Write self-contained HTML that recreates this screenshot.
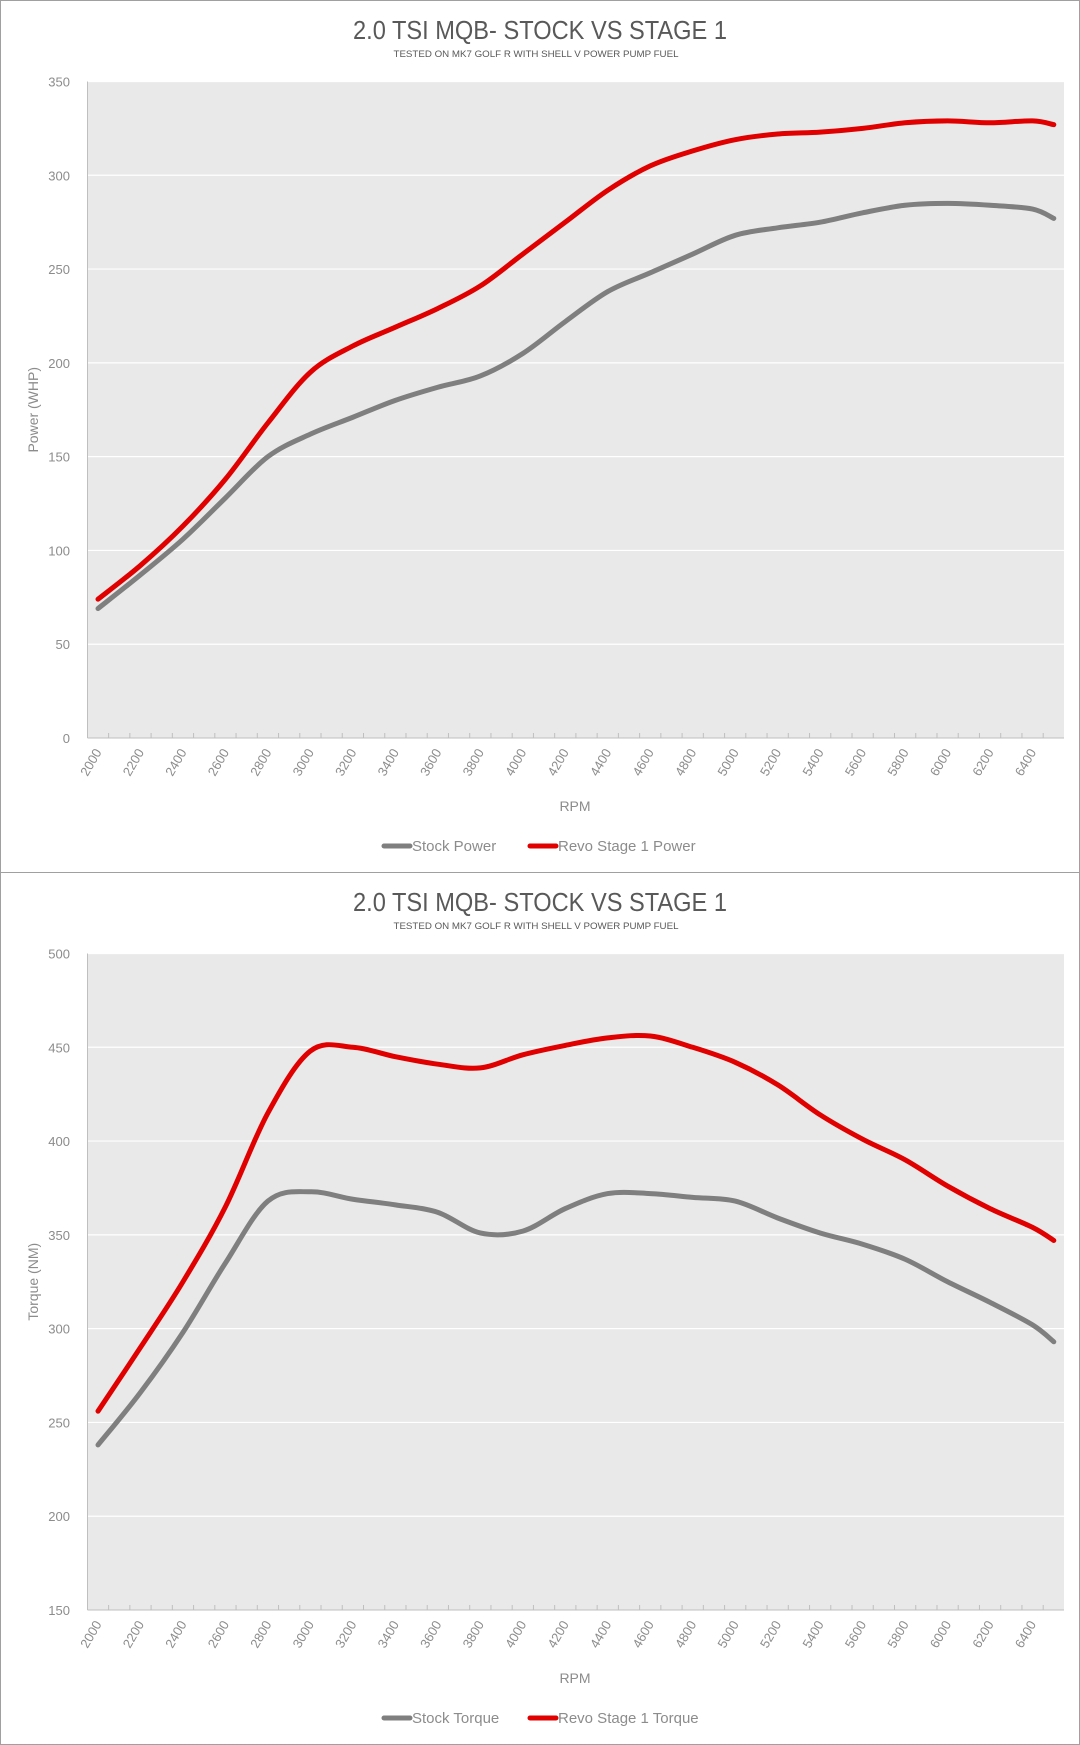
<!DOCTYPE html>
<html><head><meta charset="utf-8"><style>
html,body{margin:0;padding:0;background:#fff;}
svg{display:block;font-family:"Liberation Sans",sans-serif;}
</style></head><body>
<svg id="root" width="1080" height="1745" viewBox="0 0 1080 1745">
<rect x="0.5" y="0.5" width="1079" height="872" fill="#fff" stroke="#a0a0a0"/>
<rect x="0.5" y="872.5" width="1079" height="872" fill="#fff" stroke="#a0a0a0"/>
<g id="g1"></g>
<g id="g2"></g>
</svg>
<script>
const rpm = [2000,2200,2400,2600,2800,3000,3200,3400,3600,3800,4000,4200,4400,4600,4800,5000,5200,5400,5600,5800,6000,6200,6400,6500];
const stockPower = [69,87,106,128,150,162,171,180,187,193,205,222,238,248,258,268,272,275,280,284,285,284,282,277];
const revoPower = [74,92,113,138,168,195,209,219,229,241,258,275,292,305,313,319,322,323,325,328,329,328,329,327];
const stockTorque = [238,266,298,335,368,373,369,366,362,351,352,364,372,372,370,368,359,351,345,337,325,314,302,293];
const revoTorque = [256,290,325,365,415,448,450,445,441,439,446,451,455,456,450,442,430,414,401,390,376,364,354,347];
const powerTicks = [0,50,100,150,200,250,300,350];
const torqueTicks = [150,200,250,300,350,400,450,500];
const NS="http://www.w3.org/2000/svg";
function mk(parent,tag,attrs){const e=document.createElementNS(NS,tag);for(const k in attrs)e.setAttribute(k,attrs[k]);parent.appendChild(e);return e;}
function draw(g,oy,ticks,yTitle,s1,s2,n1,n2,key){
  const left=87.5,right=1064,top=oy+81.5,bot=oy+738;
  const yMin=ticks[0],yMax=ticks[ticks.length-1];
  const X=r=>98+(r-2000)/100*21.24;
  const Y=v=>bot-(v-yMin)/(yMax-yMin)*(bot-top);
  let t=mk(g,'text',{x:540,y:oy+39,'text-anchor':'middle','font-size':26,fill:'#595959',textLength:374,lengthAdjust:'spacingAndGlyphs'});t.textContent='2.0 TSI MQB- STOCK VS STAGE 1';
  
  t=mk(g,'text',{x:536,y:oy+57,'text-anchor':'middle','font-size':9,fill:'#595959',textLength:285,lengthAdjust:'spacingAndGlyphs'});t.textContent='TESTED ON MK7 GOLF R WITH SHELL V POWER PUMP FUEL';
  
  const bg=mk(g,'rect',{x:left,y:top,width:right-left,height:bot-top,fill:'#e9e9e9'});
  
  ticks.forEach(v=>{
    if(v!==yMin){const l=mk(g,'line',{x1:left,x2:right,y1:Y(v),y2:Y(v),stroke:'#fff','stroke-width':1.2});
      }
    const tl=mk(g,'text',{x:70,y:Y(v)+5,'text-anchor':'end','font-size':13,fill:'#8c8c8c'});tl.textContent=v;
    
  });
  mk(g,'line',{x1:left,x2:left,y1:top,y2:bot,stroke:'#bfbfbf'});
  const ax=mk(g,'line',{x1:left,x2:right,y1:bot,y2:bot,stroke:'#bfbfbf'});
  
  for(let r=2100;r<=6500;r+=100){mk(g,'line',{x1:X(r)-10.62,x2:X(r)-10.62,y1:bot,y2:bot-5,stroke:'#bfbfbf'});}
  for(let r=2000;r<=6400;r+=200){
    const lx=X(r)+4,ly=bot+14;
    const xl=mk(g,'text',{x:lx,y:ly,'text-anchor':'end','font-size':13,fill:'#8c8c8c',transform:`rotate(-60 ${lx} ${ly})`});xl.textContent=r;
    
  }
  t=mk(g,'text',{x:575,y:oy+811,'text-anchor':'middle','font-size':14,fill:'#8c8c8c'});t.textContent='RPM';
  
  const cy=(top+bot)/2;
  t=mk(g,'text',{x:38,y:cy,'text-anchor':'middle','font-size':14,fill:'#8c8c8c',transform:`rotate(-90 38 ${cy})`});t.textContent=yTitle;
  
  function path(vals,color,name){
    const pts=rpm.map((r,i)=>[X(r),Y(vals[i])]);
    let d='M'+pts[0][0]+','+pts[0][1];
    for(let i=0;i<pts.length-1;i++){
      const p0=pts[i-1]||pts[i],p1=pts[i],p2=pts[i+1],p3=pts[i+2]||p2;
      const c1=[p1[0]+(p2[0]-p0[0])/6,p1[1]+(p2[1]-p0[1])/6],c2=[p2[0]-(p3[0]-p1[0])/6,p2[1]-(p3[1]-p1[1])/6];
      d+=` C${c1[0]},${c1[1]} ${c2[0]},${c2[1]} ${p2[0]},${p2[1]}`;
    }
    const p=mk(g,'path',{d:d,fill:'none',stroke:color,'stroke-width':5,'stroke-linecap':'round','stroke-linejoin':'round'});
    
  }
  path(s1,'#7f7f7f','stock-'+key+'-line');
  path(s2,'#e00000','revo-'+key+'-line');
  const ly=oy+850;
  mk(g,'line',{x1:384,x2:410,y1:ly-4,y2:ly-4,stroke:'#7f7f7f','stroke-width':5,'stroke-linecap':'round'});
  t=mk(g,'text',{x:412,y:ly+1,'font-size':15,fill:'#8c8c8c'});t.textContent=n1;
  
  mk(g,'line',{x1:530,x2:556,y1:ly-4,y2:ly-4,stroke:'#e00000','stroke-width':5,'stroke-linecap':'round'});
  t=mk(g,'text',{x:558,y:ly+1,'font-size':15,fill:'#8c8c8c'});t.textContent=n2;
  
}
draw(document.getElementById('g1'),0,powerTicks,'Power (WHP)',stockPower,revoPower,'Stock Power','Revo Stage 1 Power','power');
draw(document.getElementById('g2'),872,torqueTicks,'Torque (NM)',stockTorque,revoTorque,'Stock Torque','Revo Stage 1 Torque','torque');
</script>
</body></html>
